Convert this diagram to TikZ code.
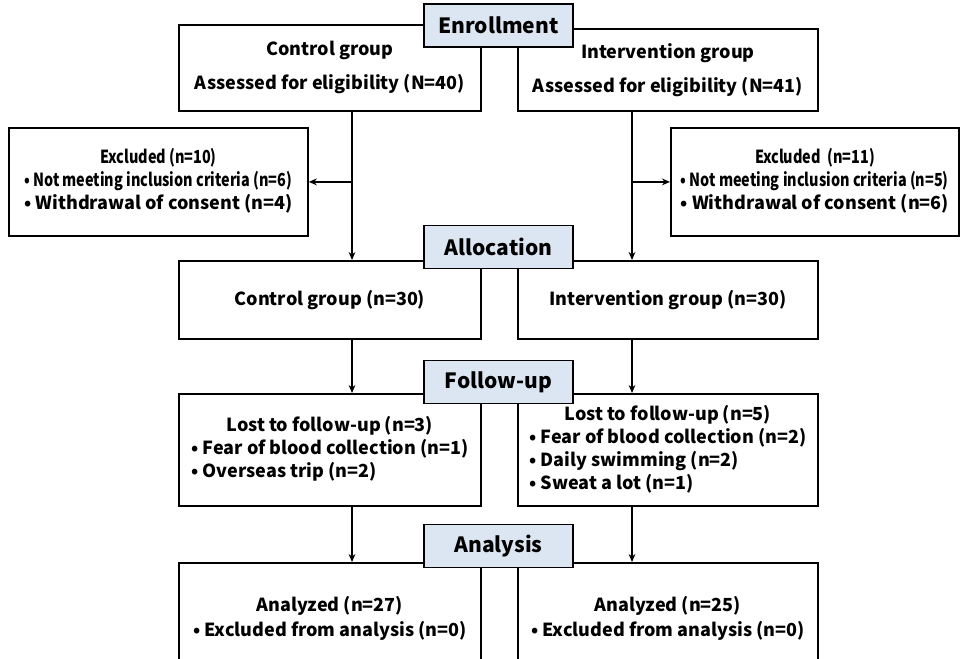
\documentclass[tikz,border=0pt]{standalone}
\usepackage{fontspec}
\setmainfont{Noto Sans CJK KR}
\newfontfamily\condfont{Noto Sans CJK KR}[FakeStretch=0.8]
\usetikzlibrary{arrows.meta}
\definecolor{stagefill}{HTML}{DCE6F2}
\tikzset{
  grpbox/.style={draw, line width=0.9pt, anchor=north west, align=center, inner sep=0pt},
  stagebox/.style={draw, line width=0.9pt, fill=stagefill, minimum width=74.5pt,
    minimum height=21.5pt, inner sep=0pt, font=\bfseries\fontsize{10.5}{13}\selectfont},
  flowline/.style={line width=0.7pt},
  flowarrow/.style={flowline, -{Stealth[length=4pt,width=3.4pt]}}
}
\begin{document}
\begin{tikzpicture}[x=0.5pt,y=-0.5pt,font=\bfseries\fontsize{9}{11.5}\selectfont]
            \useasboundingbox (0,0) rectangle (968,658);
            \clip (0,0) rectangle (968,658);

            % Enrollment row
            \node [grpbox, minimum width=151pt, minimum height=43pt] (ctrlEnrol) at (178,24)
              {Control group\\[5.5pt] Assessed for eligibility (N=40)};%
            \node [grpbox, minimum width=150pt, minimum height=41pt] (intEnrol) at (517,28)
              {Intervention group\\[5.5pt] Assessed for eligibility (N=41)};%

            % Excluded boxes
            \node [grpbox, minimum width=149.5pt, minimum height=54pt] (exclCtrl) at (8,127)
              {\begin{tabular}{@{}c@{}}{\condfont Excluded (n=10)}\\
               \begin{tabular}[t]{@{}l@{}}{\condfont\textbullet\ Not meeting inclusion criteria (n=6)}\\
               \textbullet\ Withdrawal of consent (n=4)\end{tabular}\end{tabular}};%
            \node [grpbox, minimum width=144pt, minimum height=54pt] (exclInt) at (670,127)
              {\begin{tabular}{@{}c@{}}{\condfont Excluded\ \ (n=11)}\\
               \begin{tabular}[t]{@{}l@{}}{\condfont\textbullet\ Not meeting inclusion criteria (n=5)}\\
               \textbullet\ Withdrawal of consent (n=6)\end{tabular}\end{tabular}};%

            % Allocation row
            \node [grpbox, minimum width=151pt, minimum height=39pt] (ctrlAlloc) at (178,260)
              {Control group (n=30)};%
            \node [grpbox, minimum width=150pt, minimum height=39pt] (intAlloc) at (517,260)
              {Intervention group (n=30)};%

            % Follow-up row
            \node [grpbox, minimum width=151pt, minimum height=56pt] (ctrlFollow) at (178,393)
              {\begin{tabular}{@{}c@{}}Lost to follow-up (n=3)\\
               \begin{tabular}[t]{@{}l@{}}\textbullet\ Fear of blood collection (n=1)\\
               \textbullet\ Overseas trip (n=2)\end{tabular}\end{tabular}};%
            \node [grpbox, minimum width=150pt, minimum height=56pt] (intFollow) at (517,393)
              {\begin{tabular}{@{}c@{}}Lost to follow-up (n=5)\\
               \begin{tabular}[t]{@{}l@{}}\textbullet\ Fear of blood collection (n=2)\\
               \textbullet\ Daily swimming (n=2)\\
               \textbullet\ Sweat a lot (n=1)\end{tabular}\end{tabular}};%

            % Analysis row (runs off the bottom)
            \node [grpbox, minimum width=151pt, minimum height=55.5pt] (ctrlAnal) at (178,562)
              {Analyzed (n=27)\\[1pt] \textbullet\ Excluded from analysis (n=0)};%
            \node [grpbox, minimum width=150pt, minimum height=55.5pt] (intAnal) at (517,562)
              {Analyzed (n=25)\\[1pt] \textbullet\ Excluded from analysis (n=0)};%

            % Drawing flow lines
            \coordinate (ctrlLine) at (352,0);
            \coordinate (intLine) at (632,0);
            \draw [flowarrow] (ctrlEnrol.south -| ctrlLine) -- (ctrlAlloc.north -| ctrlLine);%
            \draw [flowarrow] (intEnrol.south -| intLine) -- (intAlloc.north -| intLine);%
            \draw [flowarrow] (ctrlLine |- exclCtrl.east) -- (exclCtrl.east);%
            \draw [flowarrow] (intLine |- exclInt.west) -- (exclInt.west);%
            \draw [flowarrow] (ctrlAlloc.south -| ctrlLine) -- (ctrlFollow.north -| ctrlLine);%
            \draw [flowarrow] (intAlloc.south -| intLine) -- (intFollow.north -| intLine);%
            \draw [flowarrow] (ctrlFollow.south -| ctrlLine) -- (ctrlAnal.north -| ctrlLine);%
            \draw [flowarrow] (intFollow.south -| intLine) -- (intAnal.north -| intLine);%

            % Stage labels on top
            \node [stagebox] (enrolStage) at (498.5,25.5) {Enrollment};%
            \node [stagebox] (allocStage) at (498.5,247) {Allocation};%
            \node [stagebox] (followStage) at (498.5,382) {Follow-up};%
            \node [stagebox] (analStage) at (498.5,546) {Analysis};%
\end{tikzpicture}
\end{document}
